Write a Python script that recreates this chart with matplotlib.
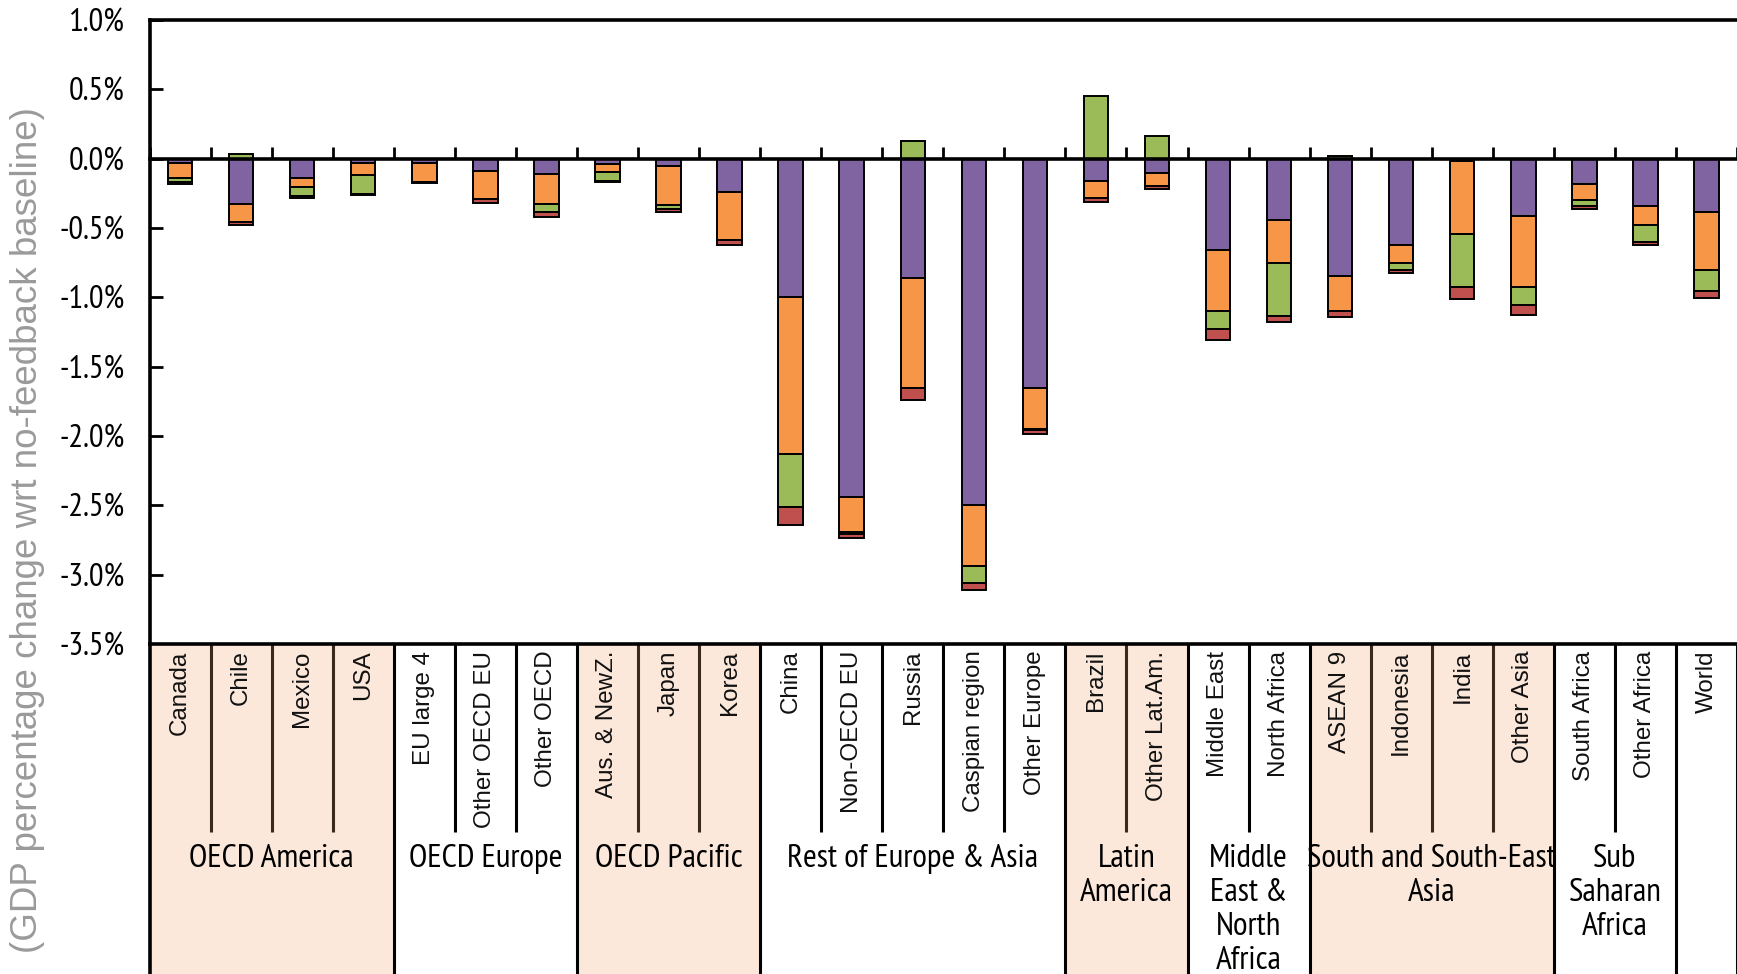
import numpy as np
import matplotlib
matplotlib.use('Agg')
import matplotlib.pyplot as plt
from matplotlib import font_manager

regions = ['Canada', 'Chile', 'Mexico', 'USA', 'EU large 4', 'Other OECD EU', 'Other OECD',
           'Aus. & NewZ.', 'Japan', 'Korea', 'China', 'Non-OECD EU', 'Russia', 'Caspian region',
           'Other Europe', 'Brazil', 'Other Lat.Am.', 'Middle East', 'North Africa', 'ASEAN 9',
           'Indonesia', 'India', 'Other Asia', 'South Africa', 'Other Africa', 'World']

groups = ['OECD America', 'OECD Europe', 'OECD Pacific', 'Rest of Europe & Asia', 'Latin\nAmerica',
          'Middle\nEast &\nNorth\nAfrica', 'South and South-East\nAsia', 'Sub\nSaharan\nAfrica', '']
group_sizes = [4, 3, 3, 5, 2, 2, 4, 2, 1]
group_shaded = [True, False, True, False, True, False, True, False, False]

# GDP impact components (%), stacked in this order
s_purple = [-0.035, -0.33, -0.138, -0.034, -0.034, -0.089, -0.111, -0.039, -0.053, -0.244,
            -0.995, -2.437, -0.86, -2.50, -1.652, -0.16, -0.10, -0.657, -0.445, -0.846,
            -0.626, -0.02, -0.411, -0.186, -0.34, -0.382]
s_orange = [-0.105, -0.126, -0.065, -0.087, -0.135, -0.205, -0.215, -0.058, -0.283, -0.345,
            -1.135, -0.254, -0.792, -0.44, -0.295, -0.125, -0.10, -0.44, -0.311, -0.251,
            -0.125, -0.521, -0.512, -0.114, -0.138, -0.42]
s_green = [-0.03, 0.03, -0.068, -0.133, 0.0, 0.0, -0.06, -0.065, -0.024, 0.0,
           -0.384, -0.015, 0.125, -0.121, -0.008, 0.45, 0.165, -0.128, -0.377, 0.02,
           -0.049, -0.387, -0.135, -0.038, -0.123, -0.152]
s_red = [-0.012, -0.02, -0.012, -0.007, -0.01, -0.029, -0.034, -0.005, -0.027, -0.036,
         -0.129, -0.03, -0.092, -0.053, -0.03, -0.025, -0.022, -0.084, -0.044, -0.048,
         -0.026, -0.084, -0.072, -0.022, -0.022, -0.053]

series = [s_purple, s_orange, s_green, s_red]
colors = ['#8064A2', '#F79646', '#9BBB59', '#C0504D']

# condensed face for axis numbers and group names
names = {f.name for f in font_manager.fontManager.ttflist}
narrow = 'Liberation Sans'
for cand in ['Liberation Sans Narrow', 'Arial Narrow', 'PT Sans Narrow', 'Roboto Condensed',
             'Archivo Narrow', 'Barlow Semi Condensed']:
    if cand in names:
        narrow = cand
        break

fig = plt.figure(figsize=(17.37, 9.74), dpi=100)
left, bottom, top = 0.0861, 0.3388, 0.9795
ax = fig.add_axes([left, bottom, 1 - left, top - bottom])

x = np.arange(len(regions))
pos_base = np.zeros(len(regions))
neg_base = np.zeros(len(regions))
for vals, c in zip(series, colors):
    v = np.array(vals)
    base = np.where(v >= 0, pos_base, neg_base)
    ax.bar(x, v, 0.4, bottom=base, color=c, edgecolor='black', linewidth=1.4, zorder=2)
    pos_base += np.where(v >= 0, v, 0)
    neg_base += np.where(v < 0, v, 0)

ax.set_xlim(-0.5, len(regions) - 0.5)
ax.set_ylim(-3.5, 1.0)
yt = np.arange(-3.5, 1.01, 0.5)
ax.set_yticks(yt)
ax.set_yticklabels(['%.1f%%' % t for t in yt], fontsize=23.5, family=narrow)
ax.tick_params(axis='y', direction='in', length=9, width=2, pad=18)

# zero line carries the category ticks
ax.spines['bottom'].set_position(('data', 0))
ax.set_xticks(np.arange(len(regions) + 1) - 0.5)
ax.set_xticklabels([])
ax.tick_params(axis='x', direction='in', length=9, width=2)
for s in ['bottom', 'top', 'left']:
    ax.spines[s].set_linewidth(2.6)
ax.spines['right'].set_visible(False)

# region / group table under the chart
tb = fig.add_axes([left, 0, 1 - left, bottom])
tb.set_xlim(-0.5, len(regions) - 0.5)
tb.set_ylim(0, 1)
tb.set_xticks([])
tb.set_yticks([])
for s in ['bottom', 'right']:
    tb.spines[s].set_visible(False)
tb.spines['top'].set_linewidth(2.6)
tb.spines['left'].set_linewidth(2.6)

edges = np.concatenate([[0], np.cumsum(group_sizes)]) - 0.5
for i, name in enumerate(groups):
    g0, g1 = edges[i], edges[i + 1]
    if group_shaded[i]:
        tb.axvspan(g0, g1, color='#FBE8DB', zorder=0)
    tb.vlines(g1, 0, 1, color='black', linewidth=2.2)
    for k in np.arange(g0 + 1, g1):
        tb.vlines(k, 0.43, 1, color='#3a2a1a' if group_shaded[i] else 'black', linewidth=2.2)
    tb.text((g0 + g1) / 2, 0.395, name, ha='center', va='top', fontsize=24,
            family=narrow, linespacing=1.18)

for i, name in enumerate(regions):
    tb.text(i, 0.98, name, rotation=90, ha='center', va='top', fontsize=17.4,
            family='Liberation Sans', color='#111111')

fig.text(0.016, 0.456, '(GDP percentage change wrt no-feedback baseline)', rotation=90,
         ha='center', va='center', fontsize=26.5, family='Liberation Sans', color='#9a9a9a')

fig.savefig('out.png', dpi=100)
